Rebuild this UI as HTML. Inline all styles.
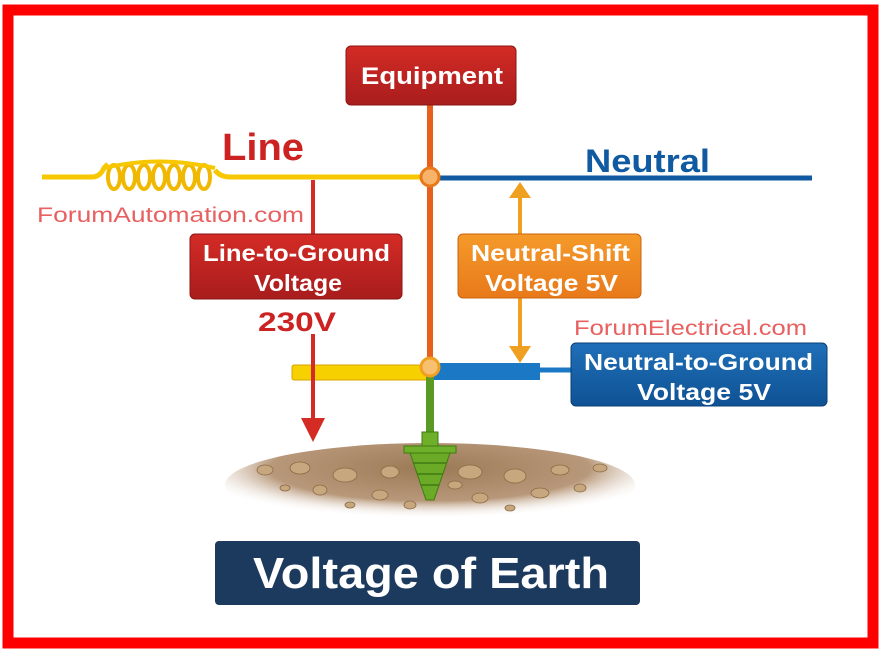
<!DOCTYPE html>
<html><head><meta charset="utf-8"><style>
html,body{margin:0;padding:0;background:#fff;}
svg{display:block;}
text{font-family:"Liberation Sans",sans-serif;font-weight:bold;}
</style></head><body>
<svg width="881" height="656" viewBox="0 0 881 656" xmlns="http://www.w3.org/2000/svg">
<defs>
<radialGradient id="soil" cx="0.5" cy="0.3" r="0.6">
<stop offset="0" stop-color="#9a7a55"/><stop offset="0.65" stop-color="#b8987a"/><stop offset="1" stop-color="#fff" stop-opacity="0"/>
</radialGradient>
<linearGradient id="red" x1="0" y1="0" x2="0" y2="1"><stop offset="0" stop-color="#d42b25"/><stop offset="1" stop-color="#a81d1d"/></linearGradient>
<linearGradient id="org" x1="0" y1="0" x2="0" y2="1"><stop offset="0" stop-color="#f59a2a"/><stop offset="1" stop-color="#e8791a"/></linearGradient>
<linearGradient id="blu" x1="0" y1="0" x2="0" y2="1"><stop offset="0" stop-color="#1f6fb8"/><stop offset="1" stop-color="#0f5294"/></linearGradient>
</defs>
<rect x="0" y="0" width="881" height="656" fill="#fff"/>
<rect x="8" y="10" width="865" height="633" fill="none" stroke="#ff0000" stroke-width="11"/>

<!-- soil -->
<ellipse cx="430" cy="485" rx="205" ry="42" fill="url(#soil)"/>
<g fill="#c7a77e" stroke="#8b6a45" stroke-width="0.8">
<ellipse cx="265" cy="470" rx="8" ry="5"/><ellipse cx="300" cy="468" rx="10" ry="6"/><ellipse cx="345" cy="475" rx="12" ry="7"/><ellipse cx="390" cy="472" rx="9" ry="6"/><ellipse cx="470" cy="472" rx="12" ry="7"/><ellipse cx="515" cy="476" rx="11" ry="7"/><ellipse cx="560" cy="470" rx="9" ry="5"/><ellipse cx="600" cy="468" rx="7" ry="4"/><ellipse cx="320" cy="490" rx="7" ry="5"/><ellipse cx="380" cy="495" rx="8" ry="5"/><ellipse cx="480" cy="498" rx="8" ry="5"/><ellipse cx="540" cy="493" rx="9" ry="5"/><ellipse cx="285" cy="488" rx="5" ry="3"/><ellipse cx="580" cy="488" rx="6" ry="4"/><ellipse cx="410" cy="505" rx="6" ry="4"/><ellipse cx="455" cy="485" rx="7" ry="4"/><ellipse cx="350" cy="505" rx="5" ry="3"/><ellipse cx="510" cy="508" rx="5" ry="3"/>
</g>

<!-- wires -->
<line x1="430" y1="105" x2="430" y2="370" stroke="#e8601c" stroke-width="6"/>
<path d="M42 177 L92 177 Q100 177 104 168 L108 164 M215 170 Q220 177 230 177 L430 177" fill="none" stroke="#f7c800" stroke-width="5"/>
<g fill="none" stroke="#f0b800" stroke-width="4">
<ellipse cx="114" cy="177" rx="6" ry="12"/><ellipse cx="129" cy="177" rx="6" ry="12"/><ellipse cx="144" cy="177" rx="6" ry="12"/><ellipse cx="159" cy="177" rx="6" ry="12"/><ellipse cx="174" cy="177" rx="6" ry="12"/><ellipse cx="189" cy="177" rx="6" ry="12"/><ellipse cx="204" cy="177" rx="6" ry="12"/>
</g>
<path d="M104 168 Q160 155 215 168" fill="none" stroke="#f7c800" stroke-width="4"/>
<line x1="430" y1="178" x2="812" y2="178" stroke="#0f5aa0" stroke-width="5"/>

<!-- lower bars -->
<rect x="292" y="365" width="140" height="15" rx="2" fill="#f7d000" stroke="#d9a400" stroke-width="1"/>
<rect x="430" y="363" width="110" height="17" fill="#1a78c4"/>
<line x1="520" y1="370" x2="572" y2="370" stroke="#1a78c4" stroke-width="5"/>
<!-- green rod -->
<rect x="426" y="375" width="8" height="58" fill="#5a9a22"/>
<rect x="422" y="432" width="16" height="14" fill="#6fb02a" stroke="#3f7a12"/>
<rect x="404" y="446" width="52" height="7" fill="#6fb02a" stroke="#3f7a12"/>
<path d="M410 453 L450 453 L434 500 L426 500 Z" fill="#6aaa26" stroke="#3f7a12"/>
<g stroke="#3f7a12" stroke-width="1.5"><line x1="413" y1="463" x2="447" y2="463"/><line x1="417" y1="474" x2="443" y2="474"/><line x1="421" y1="485" x2="439" y2="485"/></g>

<!-- junctions -->
<circle cx="430" cy="177" r="9" fill="#f7b36a" stroke="#e8791a" stroke-width="3"/>
<circle cx="430" cy="367" r="9" fill="#f7c070" stroke="#f0a020" stroke-width="3"/>

<!-- red arrow -->
<line x1="313" y1="180" x2="313" y2="236" stroke="#d42b25" stroke-width="4"/>
<line x1="313" y1="334" x2="313" y2="420" stroke="#d42b25" stroke-width="4"/>
<path d="M301 418 L325 418 L313 442 Z" fill="#d42b25"/>

<!-- orange double arrow -->
<line x1="520" y1="195" x2="520" y2="350" stroke="#f0a020" stroke-width="4"/>
<path d="M509 198 L531 198 L520 182 Z" fill="#f0a020"/>
<path d="M509 346 L531 346 L520 363 Z" fill="#f0a020"/>

<!-- boxes -->
<rect x="346" y="46" width="170" height="59" rx="5" fill="url(#red)" stroke="#8a1515"/>
<text x="361" y="84" font-size="24" fill="#fff" textLength="142" lengthAdjust="spacingAndGlyphs">Equipment</text>

<text x="222" y="160" font-size="38" fill="#cc2222" textLength="82" lengthAdjust="spacingAndGlyphs">Line</text>
<text x="585" y="172" font-size="32" fill="#0f5aa0" textLength="125" lengthAdjust="spacingAndGlyphs">Neutral</text>
<text x="37" y="222" font-size="21" fill="#e86060" style="font-weight:normal" textLength="267" lengthAdjust="spacingAndGlyphs">ForumAutomation.com</text>

<rect x="190" y="234" width="212" height="65" rx="5" fill="url(#red)" stroke="#8a1515"/>
<text x="203" y="261" font-size="23" fill="#fff" textLength="187" lengthAdjust="spacingAndGlyphs">Line-to-Ground</text>
<text x="254" y="291" font-size="23" fill="#fff" textLength="88" lengthAdjust="spacingAndGlyphs">Voltage</text>
<text x="258" y="331" font-size="27" fill="#cc2222" textLength="78" lengthAdjust="spacingAndGlyphs">230V</text>

<rect x="458" y="234" width="183" height="64" rx="5" fill="url(#org)" stroke="#c8650f"/>
<text x="471" y="261" font-size="23" fill="#fff" textLength="159" lengthAdjust="spacingAndGlyphs">Neutral-Shift</text>
<text x="485" y="291" font-size="23" fill="#fff" textLength="133" lengthAdjust="spacingAndGlyphs">Voltage 5V</text>

<text x="574" y="335" font-size="21" fill="#e86060" style="font-weight:normal" textLength="233" lengthAdjust="spacingAndGlyphs">ForumElectrical.com</text>
<rect x="571" y="343" width="256" height="63" rx="5" fill="url(#blu)" stroke="#0a3f75"/>
<text x="584" y="370" font-size="23" fill="#fff" textLength="229" lengthAdjust="spacingAndGlyphs">Neutral-to-Ground</text>
<text x="637" y="400" font-size="23" fill="#fff" textLength="134" lengthAdjust="spacingAndGlyphs">Voltage 5V</text>

<rect x="215" y="541" width="425" height="64" rx="4" fill="#1b3a5e"/>
<text x="253" y="588" font-size="44" fill="#fff" textLength="356" lengthAdjust="spacingAndGlyphs">Voltage of Earth</text>
</svg>
</body></html>
